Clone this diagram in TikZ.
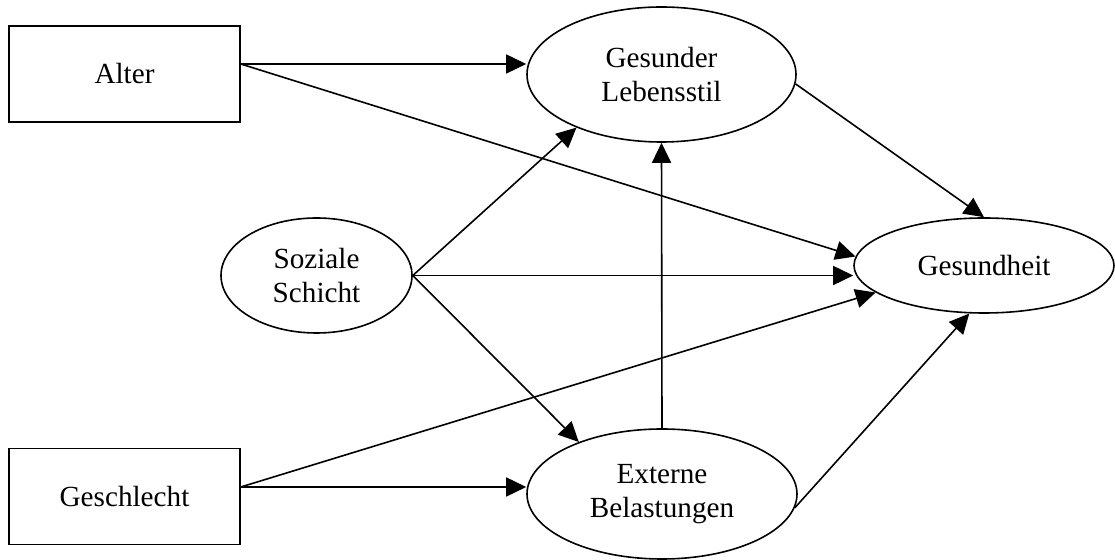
\documentclass[tikz,border=0pt]{standalone}
\usepackage{fontspec}
\setmainfont{Liberation Serif}
\usetikzlibrary{shapes.geometric,arrows.meta}

\begin{document}
\begin{tikzpicture}[x=0.5pt, y=-0.5pt, line width=0.8pt,
  font=\fontsize{14.6}{17}\selectfont,
  box/.style={draw, rectangle, minimum width=115.5pt, minimum height=48pt, inner sep=0pt},
  oval/.style={draw, ellipse, align=center, inner sep=0pt},
  pfeil/.style={-{Triangle[length=10pt,width=9.5pt]}}]
\useasboundingbox (0,0) rectangle (1115,560);
\node[box] (alter) at (124.5,74) {Alter};
\node[box] (geschlecht) at (124.5,496.5) {Geschlecht};
\node[oval, minimum width=134.5pt, minimum height=67.5pt] (stil) at (661.5,74.5) {Gesunder\\Lebensstil};
\node[oval, minimum width=95.5pt, minimum height=57.5pt] (schicht) at (316.5,275.5) {Soziale\\Schicht};
\node[oval, minimum width=130pt, minimum height=47.5pt] (gesundheit) at (984,265.5) {Gesundheit};
\node[oval, minimum width=135pt, minimum height=65pt] (extern) at (662,494) {Externe\\Belastungen};
\coordinate (alterout) at ([yshift=5pt]alter.east);
\coordinate (geschout) at ([yshift=4.75pt]geschlecht.east);
\draw[pfeil] (alterout) -- (alterout -| stil.west);
\draw[pfeil] (alterout) -- (gesundheit.176);
\draw[pfeil] (schicht.east) -- (stil.212);
\draw[pfeil] (schicht.east) -- (schicht.east -| gesundheit.west);
\draw[pfeil] (schicht.east) -- (extern.148);
\draw[pfeil] (geschout) -- (geschout -| extern.west);
\draw[pfeil] (geschout) -- (gesundheit.194);
\draw[pfeil] (extern.north) -- (stil.south);
\draw[pfeil] (stil.-4) -- (gesundheit.north);
\draw[pfeil] (extern.-6) -- (gesundheit.-107);
\end{tikzpicture}
\end{document}
